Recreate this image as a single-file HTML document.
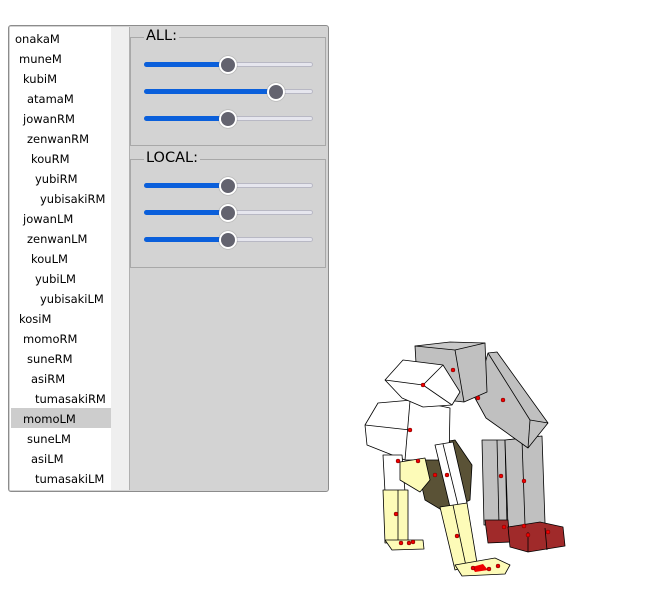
<!DOCTYPE html>
<html><head><style>
body{margin:0;width:659px;height:589px;background:#fff;position:relative;overflow:hidden;font-family:"DejaVu Sans","Liberation Sans",sans-serif;}
.panel{position:absolute;left:8px;top:25px;width:321px;height:467px;background:#d3d3d3;border:1px solid #8c8c8c;border-radius:3px;box-sizing:border-box;}
.list{position:absolute;left:10px;top:27px;width:101px;height:463px;background:#fff;}
.sb{position:absolute;left:111px;top:27px;width:18px;height:463px;background:#efefef;border-right:1px solid #b0b0b0;}
.it{position:absolute;font-size:11.5px;color:#000;line-height:20px;height:20px;}
.sel{position:absolute;left:11px;top:408px;width:100px;height:20px;background:#cdcdcd;}
.grp{position:absolute;left:130px;width:196px;height:109px;border:1px solid #a8a8a8;box-sizing:border-box;}
.gl{position:absolute;left:144px;font-size:14.5px;background:#d3d3d3;padding:0 2px;line-height:16px;}
.tr{position:absolute;left:144px;width:169px;height:5px;border-radius:3px;background:#e6e6ee;border:1px solid #b8b8c4;box-sizing:border-box;}
.fill{position:absolute;left:144px;height:5px;border-radius:3px;background:#0a5fdb;}
.th{position:absolute;width:18px;height:18px;border-radius:50%;background:#63636f;border:2px solid #fff;box-sizing:border-box;box-shadow:0 0 1px #555;}
</style></head><body>
<div class="panel"></div>
<div class="list"></div>
<div class="sb"></div>
<div class="sel"></div>
<div class="it" style="left:15px;top:29px">onakaM</div>
<div class="it" style="left:19px;top:49px">muneM</div>
<div class="it" style="left:23px;top:69px">kubiM</div>
<div class="it" style="left:27px;top:89px">atamaM</div>
<div class="it" style="left:23px;top:109px">jowanRM</div>
<div class="it" style="left:27px;top:129px">zenwanRM</div>
<div class="it" style="left:31px;top:149px">kouRM</div>
<div class="it" style="left:35px;top:169px">yubiRM</div>
<div class="it" style="left:40px;top:189px">yubisakiRM</div>
<div class="it" style="left:23px;top:209px">jowanLM</div>
<div class="it" style="left:27px;top:229px">zenwanLM</div>
<div class="it" style="left:31px;top:249px">kouLM</div>
<div class="it" style="left:35px;top:269px">yubiLM</div>
<div class="it" style="left:40px;top:289px">yubisakiLM</div>
<div class="it" style="left:19px;top:309px">kosiM</div>
<div class="it" style="left:23px;top:329px">momoRM</div>
<div class="it" style="left:27px;top:349px">suneRM</div>
<div class="it" style="left:31px;top:369px">asiRM</div>
<div class="it" style="left:35px;top:389px">tumasakiRM</div>
<div class="it" style="left:23px;top:409px">momoLM</div>
<div class="it" style="left:27px;top:429px">suneLM</div>
<div class="it" style="left:31px;top:449px">asiLM</div>
<div class="it" style="left:35px;top:469px">tumasakiLM</div>

<div class="grp" style="top:37px"></div>
<div class="gl" style="top:28px">ALL:</div>
<div class="grp" style="top:159px"></div>
<div class="gl" style="top:150px">LOCAL:</div>

<div class="tr" style="top:62px"></div><div class="fill" style="top:62px;width:84px"></div><div class="th" style="left:219px;top:56px"></div>
<div class="tr" style="top:89px"></div><div class="fill" style="top:89px;width:132px"></div><div class="th" style="left:267px;top:83px"></div>
<div class="tr" style="top:116px"></div><div class="fill" style="top:116px;width:84px"></div><div class="th" style="left:219px;top:110px"></div>
<div class="tr" style="top:183px"></div><div class="fill" style="top:183px;width:84px"></div><div class="th" style="left:219px;top:177px"></div>
<div class="tr" style="top:210px"></div><div class="fill" style="top:210px;width:84px"></div><div class="th" style="left:219px;top:204px"></div>
<div class="tr" style="top:237px"></div><div class="fill" style="top:237px;width:84px"></div><div class="th" style="left:219px;top:231px"></div>

<svg style="position:absolute;left:0;top:0" width="659" height="589" stroke="#000" stroke-width="0.8" stroke-linejoin="round">
<polygon points="482,440 505,440 507,525 484,525" fill="#c0c0c0"/>
<polygon points="505,440 542,436 545,523 508,527" fill="#c0c0c0"/>
<line x1="497" y1="440" x2="499" y2="525"/><line x1="522" y1="440" x2="525" y2="525"/>
<polygon points="485,520 508,520 510,542 488,543" fill="#a02a2a"/>
<polygon points="508,527 540,522 563,527 565,546 528,552 510,547" fill="#a02a2a"/>
<line x1="528" y1="532" x2="528" y2="552"/><line x1="545" y1="528" x2="547" y2="550"/>
<polygon points="475,398 488,353 497,352 548,423 528,448 486,418" fill="#c0c0c0"/>
<line x1="488" y1="353" x2="530" y2="420"/><line x1="530" y1="420" x2="528" y2="448"/><line x1="530" y1="420" x2="548" y2="423"/>
<polygon points="415,346 485,343 487,392 464,402 418,397" fill="#c0c0c0"/>
<polygon points="415,346 450,342 485,343 455,350" fill="#c8c8c8"/>
<line x1="455" y1="350" x2="464" y2="402"/>
<polygon points="425,445 455,440 472,465 470,500 445,512 425,500 418,470" fill="#5a5236"/>
<polygon points="365,425 378,403 412,400 450,408 449,460 405,460 367,445" fill="#fff"/>
<line x1="410" y1="401" x2="405" y2="460"/><line x1="365" y1="425" x2="410" y2="430"/>
<polygon points="385,380 403,360 443,365 460,392 452,405 423,407 402,398" fill="#fff"/>
<line x1="423" y1="385" x2="443" y2="365"/><line x1="423" y1="385" x2="385" y2="380"/><line x1="423" y1="385" x2="452" y2="405"/>
<polygon points="383,455 402,455 405,492 385,492" fill="#fff"/>
<polygon points="383,490 408,490 408,542 385,543" fill="#fdfbb8"/>
<line x1="398" y1="490" x2="398" y2="542"/>
<polygon points="385,540 423,540 424,549 392,550" fill="#fdfbb8"/>
<polygon points="400,462 425,458 430,480 420,492 400,480" fill="#fdfbb8"/>
<polygon points="435,445 453,442 467,503 450,507" fill="#fff"/>
<line x1="443" y1="444" x2="458" y2="505"/>
<polygon points="440,507 467,503 477,563 455,570" fill="#fdfbb8"/>
<line x1="453" y1="505" x2="466" y2="566"/>
<polygon points="455,565 495,558 510,565 505,574 462,576" fill="#fdfbb8"/>
<polygon points="472,567 483,564 488,570 475,572" fill="#e00" stroke="none"/>
<g fill="#e00" stroke="#600" stroke-width="0.5">
<circle cx="453" cy="370" r="2"/><circle cx="478" cy="398" r="2"/><circle cx="503" cy="400" r="2"/>
<circle cx="423" cy="385" r="2"/><circle cx="410" cy="430" r="2"/><circle cx="398" cy="461" r="2"/>
<circle cx="418" cy="461" r="2"/><circle cx="435" cy="475" r="2"/><circle cx="447" cy="475" r="2"/>
<circle cx="501" cy="476" r="2"/><circle cx="524" cy="481" r="2"/><circle cx="524" cy="526" r="2"/>
<circle cx="504" cy="527" r="2"/><circle cx="528" cy="535" r="2"/><circle cx="548" cy="532" r="2"/>
<circle cx="396" cy="514" r="2"/><circle cx="457" cy="536" r="2"/><circle cx="401" cy="543" r="2"/>
<circle cx="409" cy="543" r="2"/><circle cx="413" cy="542" r="2"/><circle cx="473" cy="568" r="2"/>
<circle cx="489" cy="569" r="2"/><circle cx="498" cy="566" r="2"/>
</g>
</svg>
</body></html>
